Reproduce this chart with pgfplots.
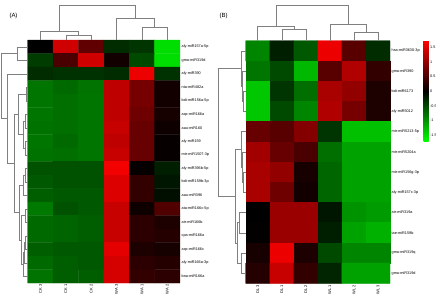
\documentclass[border=0pt]{standalone}
\usepackage{pgfplots}
\pgfplotsset{compat=1.18}
\usepackage{fontspec}
\setmainfont{Liberation Sans}

\pgfplotsset{
  heat/.style={
    scale only axis,
    enlargelimits=false,
    clip=false,
    y dir=reverse,
    axis line style={draw=none},
    major tick length=0pt,
    tick style={draw=none},
    yticklabel pos=right,
    xtick={0,...,5},
    xticklabel style={rotate=90, anchor=east, font=\fontsize{4}{4}\selectfont, inner sep=1.5pt},
    yticklabel style={font=\fontsize{3.8}{4}\selectfont, inner sep=1.5pt},
    colormap={grk}{rgb255=(0,255,0) rgb255=(0,0,0) rgb255=(255,0,0)},
    point meta min=-1.73, point meta max=1.73,
  },
  dend/.style={draw=black!50, line width=0.5bp, mark=none, forget plot},
}

\begin{document}
\begin{tikzpicture}
\useasboundingbox (0,0) rectangle (436bp,-304bp);

\node[font=\fontsize{6}{7}\selectfont, anchor=west] at (6bp,-16bp) {(A)};
\node[font=\fontsize{6}{7}\selectfont, anchor=west] at (216bp,-16bp) {(B)};

% ---------------- Panel A ----------------
\begin{axis}[heat,
  at={(27.7bp,-40bp)}, anchor=north west,
  width=152.3bp, height=243bp,
  xmin=-0.5, xmax=5.5, ymin=-0.5, ymax=17.5,
  xticklabels={CK 3,CK 1,CK 2,WA 3,WA 1,WA 2},
  ytick={0,...,17},
  yticklabels={aly-miR157a-5p,gma-miR319d,aly-miR390,nta-miR482a,bdi-miR156a-5p,
    aqc-miR166a,aau-miR160,aly-miR159,mtr-miR1507-3p,aly-miR396b-5p,bdi-miR159b-3p,
    aau-miR396,ata-miR166c-5p,atr-miR166b,cpa-miR166a,aqc-miR166c,aly-miR166a-3p,bna-miR166a},
]
\addplot[matrix plot*, mesh/cols=6, point meta=explicit] coordinates {
(0,0)[0.0] (1,0)[1.4] (2,0)[0.65] (3,0)[-0.3] (4,0)[-0.35] (5,0)[-1.5]
(0,1)[-0.4] (1,1)[0.5] (2,1)[1.4] (3,1)[0.12] (4,1)[-0.5] (5,1)[-1.5]
(0,2)[-0.3] (1,2)[-0.33] (2,2)[-0.33] (3,2)[-0.3] (4,2)[1.6] (5,2)[-0.33]
(0,3)[-0.8] (1,3)[-0.72] (2,3)[-0.78] (3,3)[1.3] (4,3)[0.8] (5,3)[0.12]
(0,4)[-0.8] (1,4)[-0.75] (2,4)[-0.8] (3,4)[1.3] (4,4)[0.8] (5,4)[0.12]
(0,5)[-0.8] (1,5)[-0.75] (2,5)[-0.8] (3,5)[1.3] (4,5)[0.75] (5,5)[0.15]
(0,6)[-0.77] (1,6)[-0.75] (2,6)[-0.8] (3,6)[1.35] (4,6)[0.7] (5,6)[0.1]
(0,7)[-0.8] (1,7)[-0.72] (2,7)[-0.8] (3,7)[1.3] (4,7)[0.7] (5,7)[0.05]
(0,8)[-0.77] (1,8)[-0.75] (2,8)[-0.8] (3,8)[1.35] (4,8)[0.7] (5,8)[0.05]
(0,9)[-0.55] (1,9)[-0.55] (2,9)[-0.55] (3,9)[1.65] (4,9)[0.05] (5,9)[-0.2]
(0,10)[-0.6] (1,10)[-0.55] (2,10)[-0.55] (3,10)[1.5] (4,10)[0.35] (5,10)[-0.15]
(0,11)[-0.64] (1,11)[-0.6] (2,11)[-0.6] (3,11)[1.5] (4,11)[0.35] (5,11)[-0.1]
(0,12)[-0.82] (1,12)[-0.55] (2,12)[-0.6] (3,12)[1.35] (4,12)[0.1] (5,12)[0.55]
(0,13)[-0.72] (1,13)[-0.68] (2,13)[-0.64] (3,13)[1.35] (4,13)[0.3] (5,13)[0.2]
(0,14)[-0.72] (1,14)[-0.68] (2,14)[-0.64] (3,14)[1.35] (4,14)[0.3] (5,14)[0.25]
(0,15)[-0.64] (1,15)[-0.6] (2,15)[-0.6] (3,15)[1.55] (4,15)[0.2] (5,15)[0.15]
(0,16)[-0.72] (1,16)[-0.64] (2,16)[-0.6] (3,16)[1.45] (4,16)[0.3] (5,16)[0.25]
(0,17)[-0.78] (1,17)[-0.64] (2,17)[-0.64] (3,17)[1.45] (4,17)[0.35] (5,17)[0.3]
};
% column dendrogram
\addplot[dend] coordinates {(1,-0.5) (1,-0.87) (2,-0.87) (2,-0.5)};
\addplot[dend] coordinates {(0,-0.5) (0,-1.115) (1.5,-1.115) (1.5,-0.87)};
\addplot[dend] coordinates {(4,-0.5) (4,-1.441) (5,-1.441) (5,-0.5)};
\addplot[dend] coordinates {(3,-0.5) (3,-2.107) (4.5,-2.107) (4.5,-1.441)};
\addplot[dend] coordinates {(0.75,-1.115) (0.75,-3.093) (3.75,-3.093) (3.75,-2.107)};
% row dendrogram
\addplot[dend] coordinates {(-0.5,0) (-0.92,0) (-0.92,1) (-0.5,1)};
\addplot[dend] coordinates {(-0.5,3) (-0.567,3) (-0.567,4) (-0.5,4)};
\addplot[dend] coordinates {(-0.5,5) (-0.606,5) (-0.606,6) (-0.5,6)};
\addplot[dend] coordinates {(-0.5,7) (-0.606,7) (-0.606,8) (-0.5,8)};
\addplot[dend] coordinates {(-0.606,5.5) (-0.685,5.5) (-0.685,7.5) (-0.606,7.5)};
\addplot[dend] coordinates {(-0.567,3.5) (-0.882,3.5) (-0.882,6.5) (-0.685,6.5)};
\addplot[dend] coordinates {(-0.5,9) (-0.606,9) (-0.606,10) (-0.5,10)};
\addplot[dend] coordinates {(-0.606,9.5) (-0.665,9.5) (-0.665,11) (-0.5,11)};
\addplot[dend] coordinates {(-0.5,12) (-0.606,12) (-0.606,13) (-0.5,13)};
\addplot[dend] coordinates {(-0.5,14) (-0.587,14) (-0.587,15) (-0.5,15)};
\addplot[dend] coordinates {(-0.587,14.5) (-0.646,14.5) (-0.646,16) (-0.5,16)};
\addplot[dend] coordinates {(-0.646,15.25) (-0.685,15.25) (-0.685,17) (-0.5,17)};
\addplot[dend] coordinates {(-0.606,12.5) (-0.744,12.5) (-0.744,16.125) (-0.685,16.125)};
\addplot[dend] coordinates {(-0.665,10.25) (-0.823,10.25) (-0.823,14.3125) (-0.744,14.3125)};
\addplot[dend] coordinates {(-0.882,5) (-1.04,5) (-1.04,12.281) (-0.823,12.281)};
\addplot[dend] coordinates {(-0.5,2) (-1.316,2) (-1.316,8.641) (-1.04,8.641)};
\addplot[dend] coordinates {(-0.92,0.5) (-1.552,0.5) (-1.552,5.32) (-1.316,5.32)};
\end{axis}

% ---------------- Panel B ----------------
\begin{axis}[heat,
  at={(245.7bp,-40.7bp)}, anchor=north west,
  width=144.3bp, height=242.6bp,
  xmin=-0.5, xmax=5.5, ymin=-0.5, ymax=11.5,
  xticklabels={DL 3,DL 1,DL 2,WL 1,WL 2,WL 3},
  ytick={0,...,11},
  yticklabels={hsa-miR3630-3p,gma-miR390,bdi-miR6173,aly-miR5012,mtr-miR5213-5p,
    mtr-miR5204a,mtr-miR156g-3p,aly-miR157c-3p,atr-miR319a,tae-miR159b,gma-miR319q,gma-miR319d},
  colorbar,
  colorbar style={
    at={(parent axis.north east)}, anchor=north west, xshift=25bp,
    scale only axis, width=5bp, height=101bp,
    axis line style={draw=none}, major tick length=0pt,
    ytick={-1.5,-1,-0.5,0,0.5,1,1.5},
    yticklabel style={font=\fontsize{3.8}{4}\selectfont, inner sep=1.5pt,
      /pgf/number format/assume math mode=true},
  },
]
\addplot[matrix plot*, mesh/cols=6, point meta=explicit] coordinates {
(0,0)[-0.9] (1,0)[-0.2] (2,0)[-0.6] (3,0)[1.6] (4,0)[0.6] (5,0)[-0.3]
(0,1)[-0.8] (1,1)[-0.5] (2,1)[-1.25] (3,1)[0.6] (4,1)[1.2] (5,1)[0.35]
(0,2)[-1.35] (1,2)[-0.35] (2,2)[-0.75] (3,2)[1.15] (4,2)[1.0] (5,2)[0.2]
(0,3)[-1.35] (1,3)[-0.5] (2,3)[-0.9] (3,3)[1.2] (4,3)[0.8] (5,3)[0.2]
(0,4)[0.7] (1,4)[0.6] (2,4)[0.9] (3,4)[-0.35] (4,4)[-1.3] (5,4)[-1.3]
(0,5)[1.1] (1,5)[0.7] (2,5)[0.5] (3,5)[-0.75] (4,5)[-1.1] (5,5)[-1.1]
(0,6)[1.15] (1,6)[1.0] (2,6)[0.15] (3,6)[-0.7] (4,6)[-1.1] (5,6)[-1.1]
(0,7)[1.15] (1,7)[0.75] (2,7)[0.12] (3,7)[-0.7] (4,7)[-1.1] (5,7)[-1.1]
(0,8)[0.0] (1,8)[1.05] (2,8)[1.05] (3,8)[-0.15] (4,8)[-1.0] (5,8)[-1.05]
(0,9)[0.02] (1,9)[1.05] (2,9)[1.05] (3,9)[-0.2] (4,9)[-1.1] (5,9)[-1.2]
(0,10)[0.15] (1,10)[1.6] (2,10)[0.2] (3,10)[-0.5] (4,10)[-0.9] (5,10)[-0.9]
(0,11)[0.25] (1,11)[1.35] (2,11)[0.35] (3,11)[-0.25] (4,11)[-1.1] (5,11)[-1.1]
};
% column dendrogram
\addplot[dend] coordinates {(1,-0.5) (1,-1.064) (2,-1.064) (2,-0.5)};
\addplot[dend] coordinates {(0,-0.5) (0,-1.192) (1.5,-1.192) (1.5,-1.064)};
\addplot[dend] coordinates {(4,-0.5) (4,-0.915) (5,-0.915) (5,-0.5)};
\addplot[dend] coordinates {(3,-0.5) (3,-1.311) (4.5,-1.311) (4.5,-0.915)};
\addplot[dend] coordinates {(0.75,-1.192) (0.75,-2.266) (3.75,-2.266) (3.75,-1.311)};
% row dendrogram
\addplot[dend] coordinates {(-0.5,2) (-0.591,2) (-0.591,3) (-0.5,3)};
\addplot[dend] coordinates {(-0.5,1) (-0.633,1) (-0.633,2.5) (-0.591,2.5)};
\addplot[dend] coordinates {(-0.5,0) (-0.675,0) (-0.675,1.75) (-0.633,1.75)};
\addplot[dend] coordinates {(-0.5,6) (-0.591,6) (-0.591,7) (-0.5,7)};
\addplot[dend] coordinates {(-0.5,5) (-0.633,5) (-0.633,6.5) (-0.591,6.5)};
\addplot[dend] coordinates {(-0.5,4) (-0.675,4) (-0.675,5.75) (-0.633,5.75)};
\addplot[dend] coordinates {(-0.5,8) (-0.766,8) (-0.766,9) (-0.5,9)};
\addplot[dend] coordinates {(-0.5,10) (-0.666,10) (-0.666,11) (-0.5,11)};
\addplot[dend] coordinates {(-0.766,8.5) (-0.862,8.5) (-0.862,10.5) (-0.666,10.5)};
\addplot[dend] coordinates {(-0.675,4.875) (-0.945,4.875) (-0.945,9.5) (-0.862,9.5)};
\addplot[dend] coordinates {(-0.675,0.875) (-1.652,0.875) (-1.652,7.1875) (-0.945,7.1875)};
\end{axis}
\end{tikzpicture}
\end{document}
